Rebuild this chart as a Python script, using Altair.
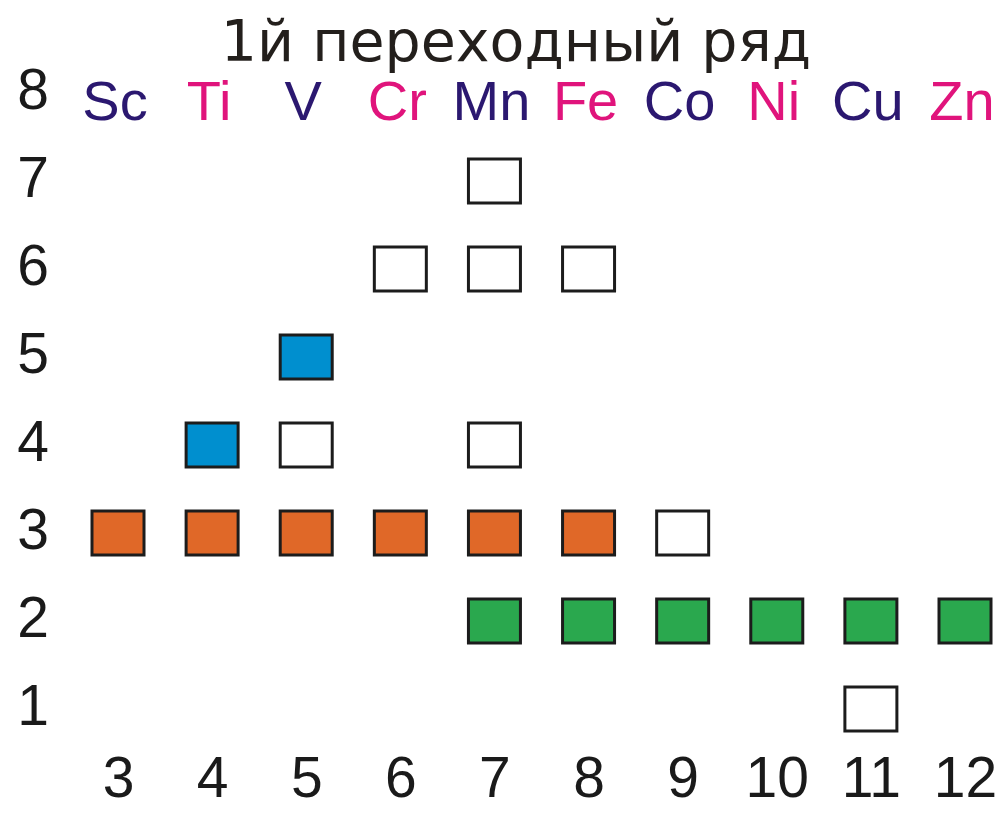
import altair as alt
import pandas as pd

# Columns (group numbers) and element symbols on the top row
columns = [3, 4, 5, 6, 7, 8, 9, 10, 11, 12]
elements = ["Sc", "Ti", "V", "Cr", "Mn", "Fe", "Co", "Ni", "Cu", "Zn"]
element_tone = ["dark", "pink", "dark", "pink", "dark", "pink", "dark", "pink", "dark", "pink"]
element_row = [8, 8, 8, 8, 8, 8, 8, 8, 8, 8]
rows = [1, 2, 3, 4, 5, 6, 7, 8]
title_text = ["1й переходный ряд"]

# Oxidation-state squares
sq_col = [7, 6, 7, 8, 5, 4, 5, 7, 3, 4, 5, 6, 7, 8, 9, 7, 8, 9, 10, 11, 12, 11]
sq_row = [7, 6, 6, 6, 5, 4, 4, 4, 3, 3, 3, 3, 3, 3, 3, 2, 2, 2, 2, 2, 2, 1]
sq_kind = ["empty", "empty", "empty", "empty", "blue", "blue", "empty", "empty",
           "orange", "orange", "orange", "orange", "orange", "orange", "empty",
           "green", "green", "green", "green", "green", "green", "empty"]

kinds = ["empty", "blue", "orange", "green"]
kind_colors = ["#ffffff", "#008fcf", "#e06828", "#2aa84e"]
tones = ["dark", "pink"]
tone_colors = ["#2b1870", "#e0147c"]

squares_df = pd.DataFrame({"col": sq_col, "row": sq_row, "kind": sq_kind})
names_df = pd.DataFrame({"col": columns, "row": element_row, "name": elements, "tone": element_tone})
title_df = pd.DataFrame({"t": title_text})

FONT = "Liberation Sans"
FS = 57

x_scale = alt.Scale(domain=[3, 12], range=[50, 897], nice=False, zero=False)
y_scale = alt.Scale(domain=[1, 8], range=[701, 85], nice=False, zero=False)

x_enc = alt.X("col:Q", scale=x_scale,
              axis=alt.Axis(values=columns, format="d", title=None, orient="bottom",
                            domain=False, ticks=False, grid=False, labelFlush=False,
                            labelOverlap=False, labelBound=False,
                            labelFont=FONT, labelFontSize=FS, labelColor="#1a1a1a",
                            labelPadding=3, labelAlign="center", labelBaseline="top"))
y_enc = alt.Y("row:Q", scale=y_scale,
              axis=alt.Axis(values=rows, format="d", title=None, orient="left",
                            domain=False, ticks=False, grid=False, labelFlush=False,
                            labelOverlap=False, labelBound=False,
                            labelFont=FONT, labelFontSize=FS, labelColor="#1a1a1a",
                            labelPadding=35.5, labelAlign="center", labelBaseline="middle",
                            labelOffset=-2))

squares = alt.Chart(squares_df).mark_rect(
    width=52, height=44, stroke="#1c1c1c", strokeWidth=3
).encode(
    x=x_enc,
    y=y_enc,
    fill=alt.Fill("kind:N", scale=alt.Scale(domain=kinds, range=kind_colors), legend=None),
)

names = alt.Chart(names_df).mark_text(
    font=FONT, fontSize=56, baseline="middle", align="center", dy=10, dx=-3
).encode(
    x=alt.X("col:Q", scale=x_scale),
    y=alt.Y("row:Q", scale=y_scale),
    text="name:N",
    color=alt.Color("tone:N", scale=alt.Scale(domain=tones, range=tone_colors), legend=None),
)

title = alt.Chart(title_df).mark_text(
    font="DejaVu Sans", fontSize=57, baseline="alphabetic", align="center", color="#231f1c"
).encode(
    x=alt.value(448),
    y=alt.value(53),
    text="t:N",
)

chart = alt.layer(squares, names, title).properties(
    width=928,
    height=740,
    padding={"left": 60, "top": 0, "right": 0, "bottom": 60},
    autosize="none",
    background="white",
).configure_view(stroke=None)

chart.save("out.html", embed_options={"renderer": "svg", "actions": False})
